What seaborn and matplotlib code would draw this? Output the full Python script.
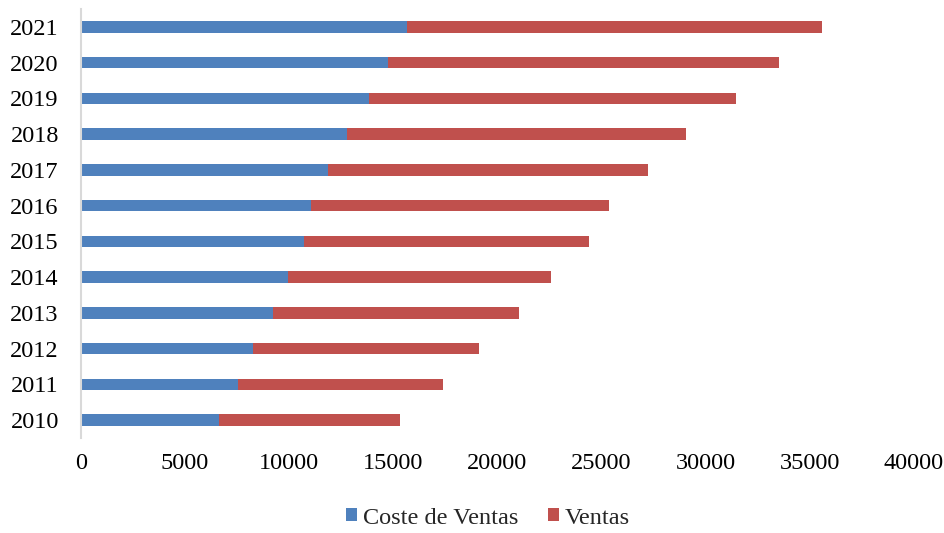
import matplotlib
matplotlib.use("Agg")
import matplotlib.pyplot as plt
import seaborn as sns
import pandas as pd
from matplotlib.patches import Patch

years = [2010, 2011, 2012, 2013, 2014, 2015, 2016, 2017, 2018, 2019, 2020, 2021]
coste_ventas = [6640, 7550, 8270, 9230, 9920, 10720, 11050, 11870, 12750, 13840, 14750, 15660]
ventas = [8670, 9810, 10840, 11790, 12650, 13690, 14290, 15340, 16310, 17620, 18780, 19930]
x_ticks = [0, 5000, 10000, 15000, 20000, 25000, 30000, 35000, 40000]

BLUE = "#4F81BD"
RED = "#C0504D"

sns.set_theme(style="white")
plt.rcParams["font.family"] = ["Liberation Serif", "DejaVu Serif"]

df = pd.DataFrame({
    "year": [str(y) for y in years],
    "coste": coste_ventas,
    "ventas": ventas,
})
df["total"] = df["coste"] + df["ventas"]
order = [str(y) for y in reversed(years)]

fig = plt.figure(figsize=(9.45, 5.33), dpi=100)
ax = fig.add_axes([81 / 945, 1 - 438 / 533, (914 - 81) / 945, (438 - 9) / 533])

# Stacked horizontal bars: the Ventas segment sits on top of Coste de Ventas
sns.barplot(data=df, x="total", y="year", order=order, color=RED,
            width=0.32, saturation=1, linewidth=0, ax=ax, orient="h")
sns.barplot(data=df, x="coste", y="year", order=order, color=BLUE,
            width=0.32, saturation=1, linewidth=0, ax=ax, orient="h")

ax.set_xlim(0, 40000)
ax.set_ylim(11.5, -0.5)
ax.set_xticks(x_ticks)
ax.set_xticklabels([str(t) for t in x_ticks])
ax.set_xlabel("")
ax.set_ylabel("")
ax.tick_params(axis="x", length=0, pad=11, labelsize=17.5, colors="black")
ax.tick_params(axis="y", length=0, pad=16, labelsize=17.5, colors="black")

for side in ["top", "right", "bottom"]:
    ax.spines[side].set_visible(False)
ax.spines["left"].set_color("#d9d9d9")
ax.spines["left"].set_linewidth(1.5)
ax.grid(False)

handles = [Patch(facecolor=BLUE, edgecolor="none"), Patch(facecolor=RED, edgecolor="none")]
fig.legend(handles, ["Coste de Ventas", "Ventas"], loc="center",
           bbox_to_anchor=(488 / 945, 1 - 518 / 533), ncol=2, frameon=False,
           fontsize=17.5, handlelength=0.45, handleheight=0.45,
           handletextpad=0.25, columnspacing=1.2)

fig.savefig("out.png", dpi=100)
